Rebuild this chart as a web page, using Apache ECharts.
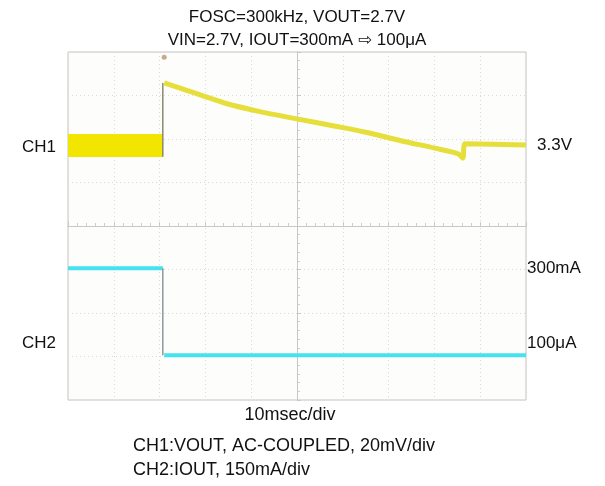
<!DOCTYPE html>
<html><head><meta charset="utf-8">
<script src="https://cdn.jsdelivr.net/npm/echarts@6/dist/echarts.min.js"></script>
<style>html,body{margin:0;padding:0;background:#fff}#c{width:605px;height:486px}</style>
</head><body><div id="c"></div>
<script>
// Coordinates in screen divisions relative to graticule centre (x: 10msec/div, y: per-channel div)
const ch1Band = [[-5, 1.85], [-2.93, 1.85]];
const ch1Edge = [[-2.93, 1.59], [-2.93, 3.29]];
const ch1Curve = [[-2.90, 3.29], [-2.55, 3.17], [-2.27, 3.07], [-1.90, 2.94], [-1.53, 2.81], [-0.81, 2.63], [-0.09, 2.48], [0.81, 2.30], [1.53, 2.15], [2.27, 1.96], [3.01, 1.79], [3.52, 1.66], [3.62, 1.56], [3.67, 1.89], [5, 1.86]];
const ch2High = [[-5, -0.97], [-2.93, -0.97]];
const ch2Edge = [[-2.93, -0.97], [-2.93, -2.97]];
const ch2Low = [[-2.90, -2.97], [5, -2.97]];
const trigger = [[-2.90, 3.88]];
const titleLines = ['FOSC=300kHz, VOUT=2.7V', 'VIN=2.7V, IOUT=300mA \u21E8 100\u03BCA'];
const footLines = ['CH1:VOUT, AC-COUPLED, 20mV/div', 'CH2:IOUT, 150mA/div'];

const chart = echarts.init(document.getElementById('c'), null, {renderer: 'canvas'});
const font = '"Liberation Sans", Arial, "DejaVu Sans", sans-serif';
function txt(x, y, s, align, size) {
  return {type: 'text', x: x, y: y, style: {text: s, font: (size || 17) + 'px ' + font, fill: '#111', textAlign: align || 'left', textVerticalAlign: 'middle'}};
}
const gridColor = '#dadada';
const axisCommon = {
  axisLabel: {show: false},
  axisLine: {show: true, onZero: true, lineStyle: {color: '#c8c8c8', width: 1}},
  axisTick: {show: true, inside: true, length: 4, lineStyle: {color: '#c8c8c8'}},
  minorTick: {show: true, splitNumber: 5, length: 3, lineStyle: {color: '#cfcfcf'}},
  splitLine: {show: true, lineStyle: {color: gridColor, type: [1, 3], width: 1}}
};
chart.setOption({
  animation: false,
  grid: {left: 68, right: 79, top: 52, bottom: 86, show: true, borderColor: '#c4c4c4', borderWidth: 1, backgroundColor: '#fdfdfb'},
  xAxis: Object.assign({type: 'value', min: -5, max: 5, interval: 1}, axisCommon),
  yAxis: Object.assign({type: 'value', min: -4, max: 4, interval: 1}, axisCommon),
  series: [
    {type: 'line', data: ch1Band, symbol: 'none', lineStyle: {color: '#f2e600', width: 23, cap: 'butt'}},
    {type: 'line', data: ch1Edge, symbol: 'none', lineStyle: {color: '#8a8a70', width: 1.5}},
    {type: 'line', data: ch1Curve, symbol: 'none', smooth: 0.3, lineStyle: {color: '#e6de3a', width: 5}},
    {type: 'line', data: ch2High, symbol: 'none', lineStyle: {color: '#45e3ef', width: 4}},
    {type: 'line', data: ch2Edge, symbol: 'none', lineStyle: {color: '#8f9a9c', width: 1.5}},
    {type: 'line', data: ch2Low, symbol: 'none', lineStyle: {color: '#45e3ef', width: 4}},
    {type: 'scatter', data: trigger, symbolSize: 5, itemStyle: {color: '#b9956a'}}
  ],
  graphic: [
    txt(297, 17, titleLines[0], 'center'),
    txt(297, 40, titleLines[1], 'center'),
    txt(22, 147, 'CH1'),
    txt(22, 343, 'CH2'),
    txt(537, 145, '3.3V'),
    txt(527, 268, '300mA'),
    txt(527, 343, '100\u03BCA'),
    txt(290, 415, '10msec/div', 'center', 18),
    txt(133, 446, footLines[0], 'left', 18),
    txt(133, 470, footLines[1], 'left', 18)
  ]
});
</script></body></html>
